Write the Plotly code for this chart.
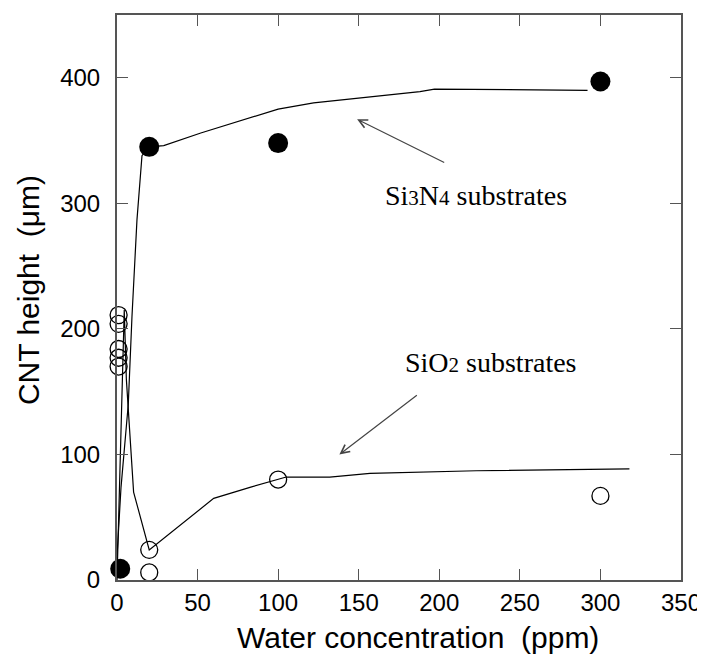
import plotly.graph_objects as go

# measured points
si3n4_x = [2, 20, 100, 300]
si3n4_y = [9, 345, 348, 397]
sio2_x = [1, 1, 1, 1, 1, 20, 20, 100, 300]
sio2_y = [211, 204, 184, 177, 170, 24, 6, 80, 67]

# hand-drawn guide curves
si3n4_fit_x = [0, 2.5, 7, 9.3, 12.4, 15.5, 20, 29, 52, 100, 122, 151, 188, 197, 292]
si3n4_fit_y = [19, 74, 140, 210, 287, 338, 345, 346, 356, 375, 380, 384, 389, 391, 390]
sio2_fit_x = [0, 4.5, 5.8, 10.3, 20, 60, 83, 105, 132, 157, 223, 281, 318]
sio2_fit_y = [0, 215, 160, 70, 24, 65, 74, 82, 82, 85, 87, 88, 88.5]

x_ticks = [0, 50, 100, 150, 200, 250, 300, 350]
y_ticks = [0, 100, 200, 300, 400]

fig = go.Figure()
fig.add_trace(go.Scatter(x=si3n4_fit_x, y=si3n4_fit_y, mode='lines',
                         line=dict(color='black', width=1.2), showlegend=False))
fig.add_trace(go.Scatter(x=sio2_fit_x, y=sio2_fit_y, mode='lines',
                         line=dict(color='black', width=1.2), showlegend=False))
fig.add_trace(go.Scatter(x=sio2_x, y=sio2_y, mode='markers', cliponaxis=False,
                         marker=dict(symbol='circle-open', size=17, color='black',
                                     line=dict(width=1.3)),
                         showlegend=False))
fig.add_trace(go.Scatter(x=si3n4_x, y=si3n4_y, mode='markers', cliponaxis=False,
                         marker=dict(symbol='circle', size=20, color='black'),
                         showlegend=False))

serif = dict(family='Liberation Serif', size=28, color='black')
sans_title = dict(family='Liberation Sans', size=30, color='black')

# page body adds an 8px offset, margins compensate for it
fig.update_layout(
    template='none',
    width=705, height=659,
    margin=dict(l=109, r=32, t=7, b=87, autoexpand=False),
    paper_bgcolor='white', plot_bgcolor='white',
    font=dict(family='Liberation Sans', size=24, color='black'),
    xaxis=dict(range=[0, 350], tickvals=x_ticks, ticks='inside', ticklen=11,
               tickcolor='#555', showline=True, linecolor='#555', linewidth=2,
               mirror='ticks', showgrid=False, zeroline=False, automargin=False,
               ticklabelstandoff=0),
    yaxis=dict(range=[0, 450], tickvals=y_ticks, ticks='inside', ticklen=11,
               tickcolor='#555', showline=True, linecolor='#555', linewidth=2,
               mirror='ticks', showgrid=False, zeroline=False, automargin=False,
               ticklabelstandoff=10),
    annotations=[
        dict(x=223, y=306, xref='x', yref='y', showarrow=False, font=serif,
             text='Si<span style="font-size:75%">3</span>N<span style="font-size:75%">4</span> substrates'),
        dict(x=232, y=173, xref='x', yref='y', showarrow=False, font=serif,
             text='SiO<span style="font-size:75%">2</span> substrates'),
        dict(x=149, y=367, ax=204, ay=332, xref='x', yref='y', axref='x', ayref='y',
             text='', showarrow=True, arrowhead=5, arrowsize=1.4, arrowwidth=1.2,
             arrowcolor='#444'),
        dict(x=138, y=100, ax=187, ay=148, xref='x', yref='y', axref='x', ayref='y',
             text='', showarrow=True, arrowhead=5, arrowsize=1.4, arrowwidth=1.2,
             arrowcolor='#444'),
        dict(x=0.534, y=-0.101, xref='paper', yref='paper', showarrow=False,
             xanchor='center', yanchor='middle',
             font=sans_title, text='Water concentration\u00a0 (ppm)'),
        dict(x=-0.158, y=0.513, xref='paper', yref='paper', showarrow=False,
             xanchor='center', yanchor='middle',
             font=sans_title, textangle=-90, text='CNT height\u00a0 (μm)'),
    ],
)

fig.write_html("out.html")
